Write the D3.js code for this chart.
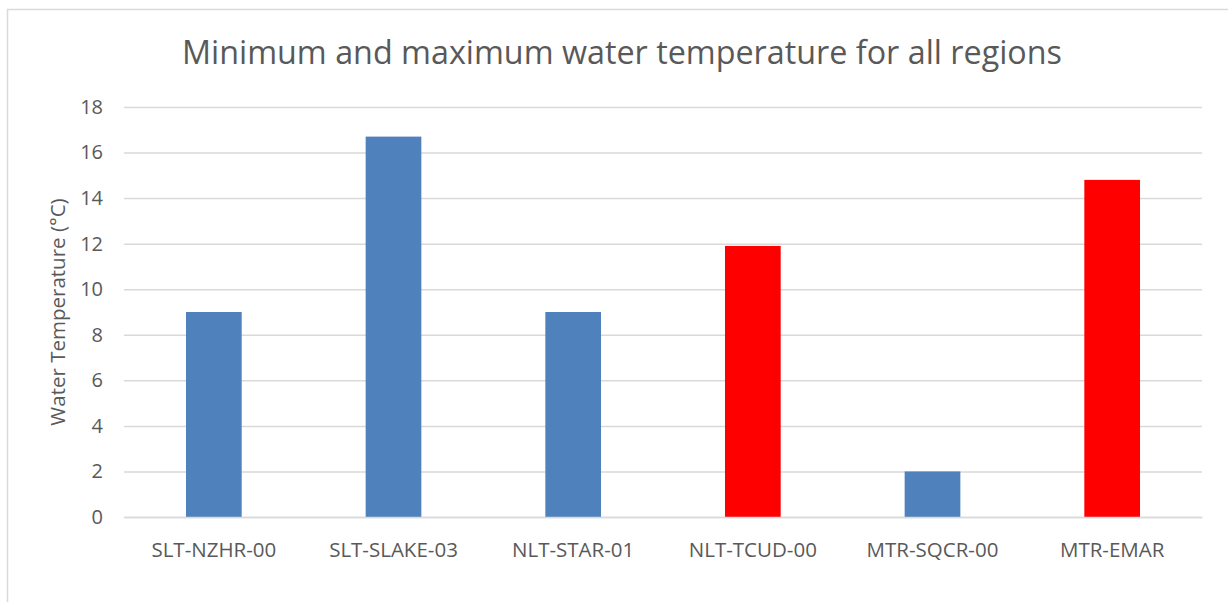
<!DOCTYPE html>
<html>
<head>
<meta charset="utf-8">
<script src="https://cdn.jsdelivr.net/npm/d3@7"></script>
<style>
  html, body { margin: 0; padding: 0; background: #fff; }
  svg { display: block; }
  text { font-family: "Open Sans", "Liberation Sans", sans-serif; fill: #595959; }
</style>
</head>
<body>
<svg id="chart" width="1228" height="602"></svg>
<script>
const categories = ["SLT-NZHR-00", "SLT-SLAKE-03", "NLT-STAR-01", "NLT-TCUD-00", "MTR-SQCR-00", "MTR-EMAR"];
const values = [9.0, 16.7, 9.0, 11.9, 2.0, 14.8];
const seriesOf = ["min", "min", "min", "max", "min", "max"];
const seriesColors = { min: "#4F81BD", max: "#FF0000" };
const yTicks = [0, 2, 4, 6, 8, 10, 12, 14, 16, 18];
const title = "Minimum and maximum water temperature for all regions";
const yTitle = "Water Temperature (°C)";

const svg = d3.select("#chart");
const m = { left: 124, right: 1202, top: 107, bottom: 517 };

// outer chart border
svg.append("rect").attr("x", 7.5).attr("y", 9.5).attr("width", 1240).attr("height", 620)
  .attr("fill", "#fff").attr("stroke", "#D9D9D9").attr("stroke-width", 1.5);

const x = d3.scaleBand().domain(categories).range([m.left, m.right])
  .paddingInner(0.69).paddingOuter(0.345);
const y = d3.scaleLinear().domain([0, 18]).range([m.bottom, m.top]);

// gridlines + y labels
const yAxis = d3.axisLeft(y).tickValues(yTicks).tickSize(-(m.right - m.left)).tickPadding(21);
const gy = svg.append("g").attr("transform", `translate(${m.left},0)`).call(yAxis);
gy.select(".domain").remove();
gy.selectAll(".tick line").attr("stroke", "#D9D9D9").attr("stroke-width", 1.5);
gy.selectAll(".tick text").attr("font-size", 20).style("fill", "#595959")
  .style("font-family", "'Open Sans', sans-serif");

// bars
svg.append("g").selectAll("rect").data(categories).join("rect")
  .attr("x", d => x(d))
  .attr("width", x.bandwidth())
  .attr("y", (d, i) => y(values[i]))
  .attr("height", (d, i) => y(0) - y(values[i]))
  .attr("fill", (d, i) => seriesColors[seriesOf[i]]);

// x axis
const xAxis = d3.axisBottom(x).tickSize(0).tickPadding(25);
const gx = svg.append("g").attr("transform", `translate(0,${m.bottom})`).call(xAxis);
gx.select(".domain").attr("stroke", "#D9D9D9").attr("stroke-width", 1.5);
gx.selectAll(".tick text").attr("font-size", 20.5).style("fill", "#595959")
  .style("font-family", "'Open Sans', sans-serif");

// title
svg.append("text").attr("x", 622).attr("y", 64).attr("text-anchor", "middle")
  .attr("font-size", 32.3).text(title);

// y title
svg.append("text").attr("transform", "translate(65,312) rotate(-90)")
  .attr("text-anchor", "middle").attr("font-size", 20.5).text(yTitle);
</script>
</body>
</html>
